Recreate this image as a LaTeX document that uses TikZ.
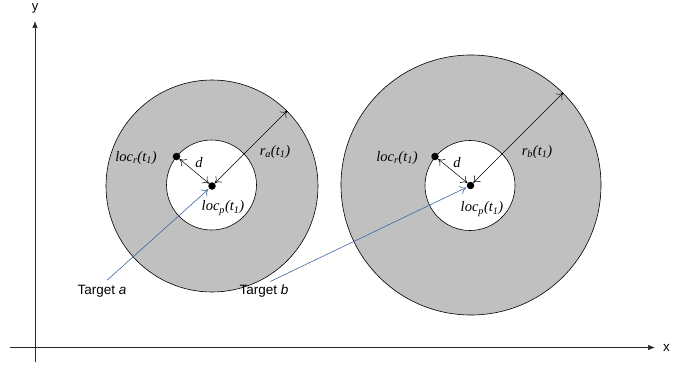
\documentclass[tikz,border=0pt]{standalone}
\usepackage{fontspec}
\setmainfont{Liberation Serif}
\setsansfont{Liberation Sans}
\usetikzlibrary{arrows.meta}
\begin{document}
\begin{tikzpicture}[x=1pt,y=-1pt,
  ring/.style={circle,draw=black,line width=0.6pt,fill=ringgray,inner sep=0pt},
  hole/.style={circle,draw=black,line width=0.6pt,fill=white,inner sep=0pt,minimum size=90pt},
  dot/.style={circle,fill=black,inner sep=0pt,minimum size=7.5pt},
  lbl/.style={font=\fontsize{14.5}{16}\selectfont\itshape,inner sep=0pt},
  tgt/.style={font=\sffamily\fontsize{13.5}{15}\selectfont,inner sep=0pt},
  axis/.style={draw=black!85,line width=0.7pt,-{Latex[length=7pt,width=5.5pt]}},
  meas/.style={draw=black,line width=0.5pt,{To[length=6pt,width=9pt]}-{To[length=6pt,width=9pt]}},
  pointer/.style={draw=pointblue,line width=0.6pt,-{To[length=6pt,width=9pt]}}
]
\definecolor{ringgray}{RGB}{192,192,192}
\definecolor{pointblue}{RGB}{62,104,158}
\useasboundingbox (0,0) rectangle (693,369);
% axes
\coordinate (xs) at (10,347.5);
\coordinate (xe) at (655,347.5);
\coordinate (ys) at (35,362);
\coordinate (ye) at (35,21);
\draw[axis] (xs) -- (xe);
\draw[axis] (ys) -- (ye);
\node[font=\sffamily\fontsize{13.5}{15}\selectfont,anchor=west,inner sep=0pt] (xl) at (663,348) {x};
\node[font=\sffamily\fontsize{13}{15}\selectfont,anchor=north,inner sep=0pt] (yl) at (35,3.5) {y};
% target a
\node[ring,minimum size=212pt] (oa) at (212,186) {};
\node[hole] (ha) at (211.5,185) {};
\node[dot] (ca) at (212,186) {};
\node[dot] (ra) at (176.5,156.5) {};
\draw[meas] (ra) -- (ca);
\draw[meas] (ca) -- (oa.45);
\node[lbl] (da) at (199,163) {d};
\node[lbl] (lra) at (136,158) {loc\textsubscript{r}(t\textsubscript{1})};
\node[lbl] (rla) at (275,152) {r\textsubscript{a}(t\textsubscript{1})};
\node[lbl] (lpa) at (223,208) {loc\textsubscript{p}(t\textsubscript{1})};
% target b
\node[ring,minimum size=260pt] (ob) at (471,185) {};
\node[hole] (hb) at (470,185.5) {};
\node[dot] (cb) at (470.5,185.5) {};
\node[dot] (rb) at (435,156.5) {};
\draw[meas] (rb) -- (cb);
\draw[meas] (cb) -- (ob.45);
\node[lbl] (db) at (457,163) {d};
\node[lbl] (lrb) at (397,158) {loc\textsubscript{r}(t\textsubscript{1})};
\node[lbl] (rlb) at (537,152) {r\textsubscript{b}(t\textsubscript{1})};
\node[lbl] (lpb) at (482,209) {loc\textsubscript{p}(t\textsubscript{1})};
% target labels and pointers
\node[tgt] (ta) at (102,291) {Target \textit{a}};
\node[tgt] (tb) at (264,291) {Target \textit{b}};
\draw[pointer,shorten <=7pt,shorten >=1pt] (ta.north) -- (ca);
\draw[pointer,shorten <=7pt,shorten >=1pt] (tb.north) -- (cb);
\end{tikzpicture}
\end{document}
